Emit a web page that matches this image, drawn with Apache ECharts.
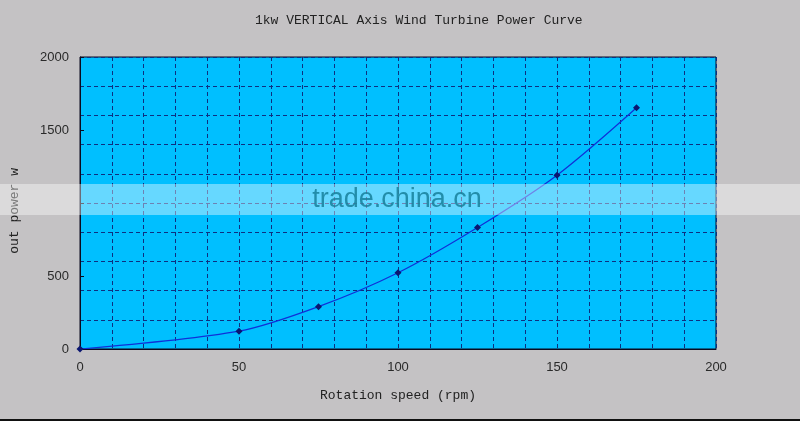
<!DOCTYPE html>
<html>
<head>
<meta charset="utf-8">
<script src="https://cdn.jsdelivr.net/npm/echarts@6/dist/echarts.min.js"></script>
<style>
  html, body { margin: 0; padding: 0; background: #c4c2c4; }
  #PowerCurve { width: 800px; height: 421px; }
</style>
</head>
<body>
<div id="PowerCurve"></div>
<script>
  // 转速 (rpm) 和 输出功率 (w)
  var speeds = [0, 50, 75, 100, 125, 150, 175];
  var powers = [0, 122, 290, 522, 832, 1190, 1652];
  var yLabelTicks = [0, 500, 1500, 2000];   // 1000 被水印挡住了

  var points = speeds.map(function (s, i) { return [s, powers[i]]; });

  var myChart = echarts.init(document.getElementById('PowerCurve'));

  var gridLine = {
    show: true,
    lineStyle: { color: '#0e2f80', width: 1, type: [4, 3] }
  };

  myChart.setOption({
    backgroundColor: '#c4c2c4',
    animation: false,
    title: {
      text: '1kw VERTICAL Axis Wind Turbine Power Curve',
      left: 250,
      top: 9,
      textStyle: {
        fontFamily: 'Liberation Mono',
        fontSize: 13,
        fontWeight: 'normal',
        color: '#222'
      }
    },
    grid: {
      left: 80,
      right: 84,
      top: 57,
      bottom: 72,
      show: true,
      backgroundColor: '#00bfff',
      borderColor: '#0a0a20',
      borderWidth: 1
    },
    xAxis: [
      {
        type: 'value',
        min: 0,
        max: 200,
        interval: 50,
        name: 'Rotation speed (rpm)',
        nameLocation: 'middle',
        nameGap: 40,
        nameTextStyle: { fontFamily: 'Liberation Mono', fontSize: 13, color: '#222' },
        axisLine: { show: true, lineStyle: { color: '#0a0a20' } },
        axisTick: { show: false },
        splitLine: { show: false },
        axisLabel: { margin: 12, fontFamily: 'Liberation Sans', fontSize: 13, color: '#2a2a2a' }
      },
      {
        type: 'value',
        min: 0,
        max: 200,
        interval: 10,
        position: 'bottom',
        axisLine: { show: false },
        axisTick: { show: false },
        axisLabel: { show: false },
        splitLine: gridLine
      }
    ],
    yAxis: [
      {
        type: 'value',
        min: 0,
        max: 2000,
        interval: 500,
        axisLine: { show: true, lineStyle: { color: '#0a0a20' } },
        axisTick: { show: true, inside: true, length: 4, lineStyle: { color: '#0a0a20' } },
        splitLine: { show: false },
        axisLabel: {
          margin: 11,
          fontFamily: 'Liberation Sans',
          fontSize: 13,
          color: '#2a2a2a',
          formatter: function (v) {
            return yLabelTicks.indexOf(v) >= 0 ? String(v) : '';
          }
        }
      },
      {
        type: 'value',
        min: 0,
        max: 2000,
        interval: 200,
        position: 'left',
        axisLine: { show: false },
        axisTick: { show: false },
        axisLabel: { show: false },
        splitLine: gridLine
      }
    ],
    series: [
      {
        name: 'power',
        type: 'line',
        xAxisIndex: 0,
        yAxisIndex: 0,
        data: points,
        smooth: 0.3,
        symbol: 'diamond',
        symbolSize: 7,
        itemStyle: { color: '#0b1670' },
        lineStyle: { color: '#1030d8', width: 1.2 }
      }
    ],
    graphic: [
      {
        type: 'text',
        left: 8,
        top: 168,
        rotation: Math.PI / 2,
        style: {
          text: 'out power w',
          fontFamily: 'Liberation Mono',
          fontSize: 13,
          fill: '#222'
        }
      },
      {
        // 水印条
        type: 'rect',
        z: 100,
        shape: { x: 0, y: 184, width: 800, height: 31 },
        style: { fill: 'rgba(255,255,255,0.4)' }
      },
      {
        type: 'text',
        z: 101,
        x: 397,
        y: 200,
        style: {
          text: 'trade.china.cn',
          fontFamily: 'Liberation Sans',
          fontSize: 27,
          fill: 'rgba(22,128,155,0.85)',
          align: 'center',
          verticalAlign: 'middle'
        }
      },
      {
        type: 'rect',
        z: 100,
        shape: { x: 0, y: 419, width: 800, height: 2 },
        style: { fill: '#111' }
      }
    ]
  });
</script>
</body>
</html>
